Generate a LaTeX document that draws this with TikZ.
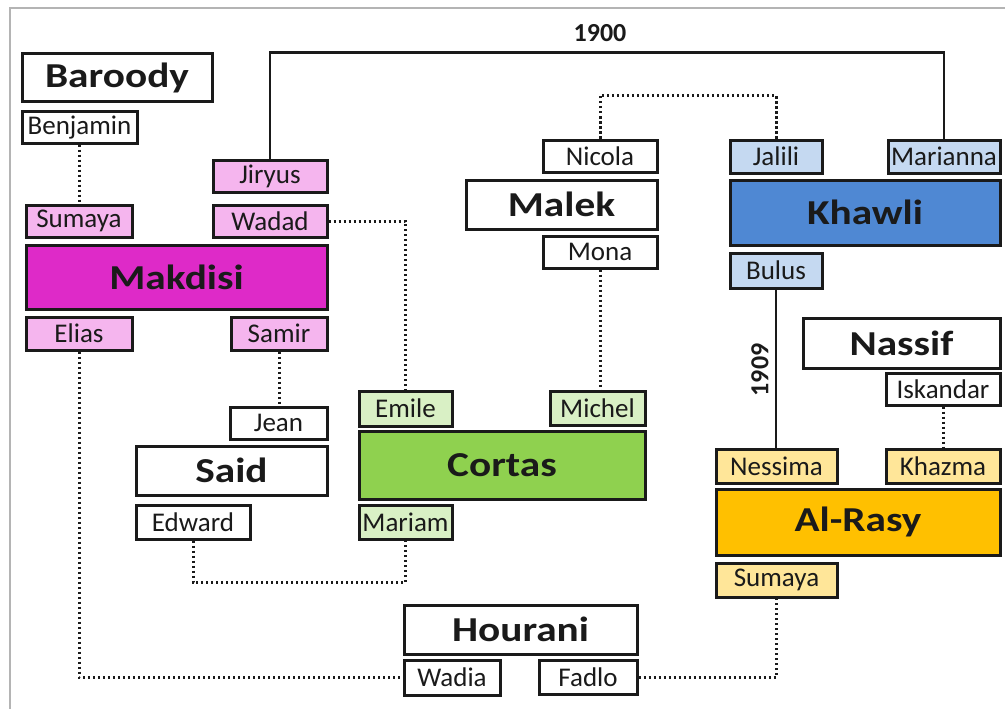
\documentclass[tikz,border=0pt]{standalone}
\usepackage{fontspec}
\setmainfont{Carlito}
\newfontfamily\tfont[FakeStretch=1.18]{Carlito}
\definecolor{bdr}{HTML}{1A1A1A}
\definecolor{framec}{HTML}{B4B4B4}
\definecolor{pinkL}{HTML}{F5B5EE}
\definecolor{pinkD}{HTML}{DE2AC8}
\definecolor{blueL}{HTML}{C5D9F1}
\definecolor{blueD}{HTML}{4F88D3}
\definecolor{yelL}{HTML}{FFE699}
\definecolor{yelD}{HTML}{FFC000}
\definecolor{grnL}{HTML}{D9F0C5}
\definecolor{grnD}{HTML}{8FD14F}
\begin{document}
\begin{tikzpicture}[x=1pt,y=-1pt,
  nm/.style={draw=bdr, line width=3pt, inner sep=0pt, fill=white, text=bdr, font=\fontsize{27}{30}\selectfont},
  fam/.style={nm, font=\tfont\bfseries\fontsize{35}{38}\selectfont},
  solidln/.style={draw=bdr, line width=2.6pt},
  dotln/.style={draw=bdr, line width=3pt, dash pattern=on 2.4pt off 2.6pt},
  yr/.style={font=\bfseries\fontsize{26}{28}\selectfont, text=bdr}
]
\useasboundingbox (0,0) rectangle (1005,709);
\fill[white] (0,0) rectangle (1005,709);
\draw[framec, line width=2pt] (10,709) -- (10,8) -- (1005,8);

% Baroody / Makdisi
\node[fam, minimum width=190, minimum height=48] (baroody) at (117,78) {Baroody};
\node[nm, minimum width=115, minimum height=31] (benjamin) at (79.5,127.5) {Benjamin};
\node[nm, fill=pinkL, minimum width=114, minimum height=32] (jiryus) at (270,176) {Jiryus};
\node[nm, fill=pinkL, minimum width=106, minimum height=32] (sumaya1) at (79,221) {Sumaya};
\node[nm, fill=pinkL, minimum width=114, minimum height=32] (wadad) at (270,221) {Wadad};
\node[fam, fill=pinkD, minimum width=301, minimum height=64] (makdisi) at (176.5,277) {Makdisi};
\node[nm, fill=pinkL, minimum width=106, minimum height=33] (elias) at (79,333.5) {Elias};
\node[nm, fill=pinkL, minimum width=96, minimum height=33] (samir) at (279,333.5) {Samir};

% Malek
\node[nm, minimum width=114, minimum height=32] (nicola) at (600,156) {Nicola};
\node[fam, minimum width=191, minimum height=49] (malek) at (561.5,204.5) {Malek};
\node[nm, minimum width=114, minimum height=32] (mona) at (600,252) {Mona};

% Khawli
\node[nm, fill=blueL, minimum width=92, minimum height=33] (jalili) at (776,156.5) {Jalili};
\node[nm, fill=blueL, minimum width=112, minimum height=33] (marianna) at (944,156.5) {Marianna};
\node[fam, fill=blueD, minimum width=270, minimum height=65] (khawli) at (865,212.5) {Khawli};
\node[nm, fill=blueL, minimum width=92, minimum height=35] (bulus) at (776,270.5) {Bulus};

% Nassif / Al-Rasy
\node[fam, minimum width=197, minimum height=50] (nassif) at (901.5,343) {Nassif};
\node[nm, minimum width=114, minimum height=32] (iskandar) at (943,389) {Iskandar};
\node[nm, fill=yelL, minimum width=121, minimum height=34] (nessima) at (776.5,466) {Nessima};
\node[nm, fill=yelL, minimum width=114, minimum height=34] (khazma) at (943,466) {Khazma};
\node[fam, fill=yelD, minimum width=284, minimum height=66] (alrasy) at (858,522) {Al-Rasy};
\node[nm, fill=yelL, minimum width=121, minimum height=34] (sumaya2) at (776.5,580) {Sumaya};

% Said
\node[nm, minimum width=97, minimum height=32] (jean) at (278.5,423) {Jean};
\node[fam, minimum width=191, minimum height=49] (said) at (231.5,470.5) {Said};
\node[nm, minimum width=114, minimum height=34] (edward) at (193,522) {Edward};

% Cortas
\node[nm, fill=grnL, minimum width=93, minimum height=35] (emile) at (405.5,408.5) {Emile};
\node[fam, fill=grnD, minimum width=286, minimum height=68] (cortas) at (502,465) {Cortas};
\node[nm, fill=grnL, minimum width=95, minimum height=34] (michel) at (597.5,408) {Michel};
\node[nm, fill=grnL, minimum width=93, minimum height=34] (mariam) at (405.5,522) {Mariam};

% Hourani
\node[fam, minimum width=233, minimum height=49] (hourani) at (520.5,629.5) {Hourani};
\node[nm, minimum width=96, minimum height=35] (wadia) at (452,677.5) {Wadia};
\node[nm, minimum width=98, minimum height=34] (fadlo) at (588,677) {Fadlo};

% solid connectors
\draw[solidln] (jiryus.north) -- ++(0,-106) -| (marianna.north);
\node[yr] (y1900) at (600,33) {1900};
\draw[solidln] (bulus.south) -- (bulus.south |- nessima.north);
\node[yr, rotate=90] (y1909) at (760,370) {1909};

% dotted connectors
\draw[dotln] (benjamin.south) -- (benjamin.south |- sumaya1.north);
\draw[dotln] (wadad.east) -| (emile.north);
\draw[dotln] (nicola.north) -- ++(0,-43) -| (jalili.north);
\draw[dotln] (mona.south) -- (mona.south |- michel.north);
\draw[dotln] (samir.south) -- (samir.south |- jean.north);
\draw[dotln] (elias.south) |- (wadia.west);
\draw[dotln] (edward.south) -- ++(0,42) -| (mariam.south);
\draw[dotln] (fadlo.east) -| (sumaya2.south);
\draw[dotln] (iskandar.south) -- (iskandar.south |- khazma.north);
\end{tikzpicture}
\end{document}
